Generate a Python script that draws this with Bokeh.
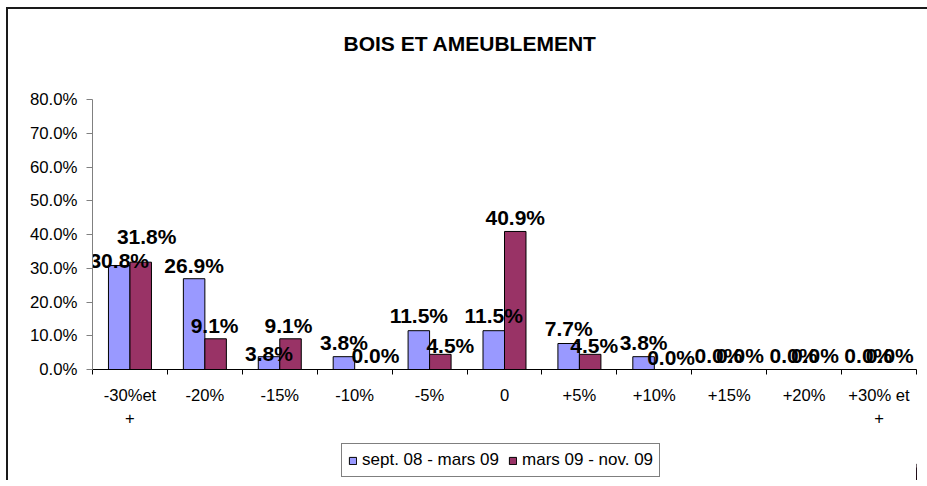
from bokeh.plotting import figure
from bokeh.layouts import column
from bokeh.models import (ColumnDataSource, Range1d, FixedTicker, NumeralTickFormatter,
                          Legend, LegendItem, LinearAxis, Title)
from bokeh.core.properties import value
from bokeh.embed import file_html
from bokeh.resources import INLINE

# ---- data ----
categories = ["-30%et\n+", "-20%", "-15%", "-10%", "-5%", "0", "+5%", "+10%",
              "+15%", "+20%", "+30% et\n+"]
series_names = ["sept. 08 - mars 09", "mars 09 - nov. 09"]
sept_mars = [30.8, 26.9, 3.8, 3.8, 11.5, 11.5, 7.7, 3.8, 0.0, 0.0, 0.0]
mars_nov = [31.8, 9.1, 9.1, 0.0, 4.5, 40.9, 4.5, 0.0, 0.0, 0.0, 0.0]
y_ticks = [0.0, 0.1, 0.2, 0.3, 0.4, 0.5, 0.6, 0.7, 0.8]

# label nudges (screen px) to mimic the original label placement
blue_dx = [0, 0, 0, 0, 0, 0, 0, 0, 0, 0, 0]
blue_dy = [9, 1, 11, 0, -1, -1, -1, 0, 0, 0, 0]
red_dx = [6, -1, -2, 10, 10, 0, 4, 6, 0, 0, 0]
red_dy = [-12, 1, 1, 0, 5, 0, 5, 2, 0, 0, 0]

FONT = "Liberation Sans"
BLUE = "#9999FF"
RED = "#993366"
BAR_W = 0.287

n = len(categories)
idx = list(range(n))
base_off = 14

src_b = ColumnDataSource(dict(
    x=[i + 0.5 - BAR_W / 2 for i in idx],
    top=[v / 100 for v in sept_mars],
    lab=[f"{v:.1f}%" for v in sept_mars],
    dx=blue_dx,
    dy=[d - base_off for d in blue_dy],
))
src_r = ColumnDataSource(dict(
    x=[i + 0.5 + BAR_W / 2 for i in idx],
    top=[v / 100 for v in mars_nov],
    lab=[f"{v:.1f}%" for v in mars_nov],
    dx=red_dx,
    dy=[d - base_off for d in red_dy],
))

p = figure(width=920, height=440, x_range=Range1d(0, n), y_range=Range1d(0, 0.8),
           output_backend="svg", toolbar_location=None, x_axis_type=None,
           min_border_left=92, min_border_right=4, min_border_top=99, min_border_bottom=71)
p.outline_line_color = None
p.xgrid.visible = False
p.ygrid.visible = False
p.background_fill_color = "white"
p.border_fill_color = "white"

# real title (outer) and an invisible spacer title next to the frame
p.title.text = "BOIS ET AMEUBLEMENT"
p.title.align = "left"
p.title.offset = 251
p.title.text_font = FONT
p.title.text_font_size = "21px"
p.title.text_font_style = "bold"
p.title.text_color = "black"
p.title.standoff = 10
spacer = Title(text=" ", text_font=FONT, text_font_size="21px", standoff=15)
p.add_layout(spacer, "above")

rb = p.vbar(x="x", top="top", width=BAR_W, bottom=0, source=src_b,
            fill_color=BLUE, line_color="black", line_width=1)
rr = p.vbar(x="x", top="top", width=BAR_W, bottom=0, source=src_r,
            fill_color=RED, line_color="black", line_width=1)

for s in (src_b, src_r):
    p.text(x="x", y="top", text="lab", source=s, x_offset="dx", y_offset="dy",
           text_font=value(FONT), text_font_size="21px", text_font_style="bold",
           text_color="black", text_align="center", text_baseline="alphabetic")

# y axis
ya = p.yaxis[0]
ya.ticker = FixedTicker(ticks=y_ticks, minor_ticks=[])
ya.formatter = NumeralTickFormatter(format="0.0%")
ya.axis_line_color = "#808080"
ya.major_tick_line_color = "#808080"
ya.major_tick_out = 6
ya.major_tick_in = 0
ya.major_label_standoff = 9
ya.major_label_text_font = FONT
ya.major_label_text_font_size = "16.8px"
ya.major_label_text_color = "black"

# x axis
xa = LinearAxis(ticker=FixedTicker(ticks=[i + 0.5 for i in idx], minor_ticks=list(range(n + 1))))
xa.major_label_overrides = {i + 0.5: categories[i] for i in idx}
xa.major_tick_line_color = None
xa.minor_tick_line_color = "black"
xa.minor_tick_out = 5
xa.minor_tick_in = 0
xa.axis_line_color = "black"
xa.major_label_standoff = 10
xa.major_label_text_font = FONT
xa.major_label_text_font_size = "16.6px"
xa.major_label_text_line_height = 1.25
xa.major_label_text_color = "black"
p.add_layout(xa, "below")

# legend strip below the chart (same series, kept out of this strip's view)
lf = figure(width=920, height=40, x_range=Range1d(-2, -1), y_range=Range1d(0, 1),
            output_backend="svg", toolbar_location=None, x_axis_type=None, y_axis_type=None,
            min_border=0, min_border_left=0, min_border_right=0, min_border_top=0,
            min_border_bottom=0)
lf.outline_line_color = None
lf.xgrid.visible = False
lf.ygrid.visible = False
lb = lf.vbar(x="x", top="top", width=BAR_W, source=src_b,
             fill_color=BLUE, line_color="black", line_width=1)
lr = lf.vbar(x="x", top="top", width=BAR_W, source=src_r,
             fill_color=RED, line_color="black", line_width=1)
legend = Legend(items=[LegendItem(label=series_names[0], renderers=[lb]),
                       LegendItem(label=series_names[1], renderers=[lr])],
                orientation="horizontal", location=(249, 3),
                border_line_color="black", border_line_width=1,
                label_text_font=FONT, label_text_font_size="17px", label_text_color="black",
                glyph_width=9, glyph_height=9, label_standoff=5, spacing=9,
                padding=6, margin=0, background_fill_alpha=1)
lf.add_layout(legend, "center")

layout = column(p, lf, spacing=0)
# outer chart frame: only its top and left edges fall inside the picture
layout.stylesheets = [
    ":host { position: relative; }",
    ":host::before { content: ''; position: absolute; left: 6px; top: 7px; right: -7px; "
    "height: 2px; background: #1a1a1a; pointer-events: none; z-index: 5; }",
    ":host::after { content: ''; position: absolute; left: 6px; top: 7px; width: 2px; "
    "bottom: 0; background: #1a1a1a; pointer-events: none; z-index: 5; }",
]
open("out.html", "w").write(file_html(layout, INLINE))
